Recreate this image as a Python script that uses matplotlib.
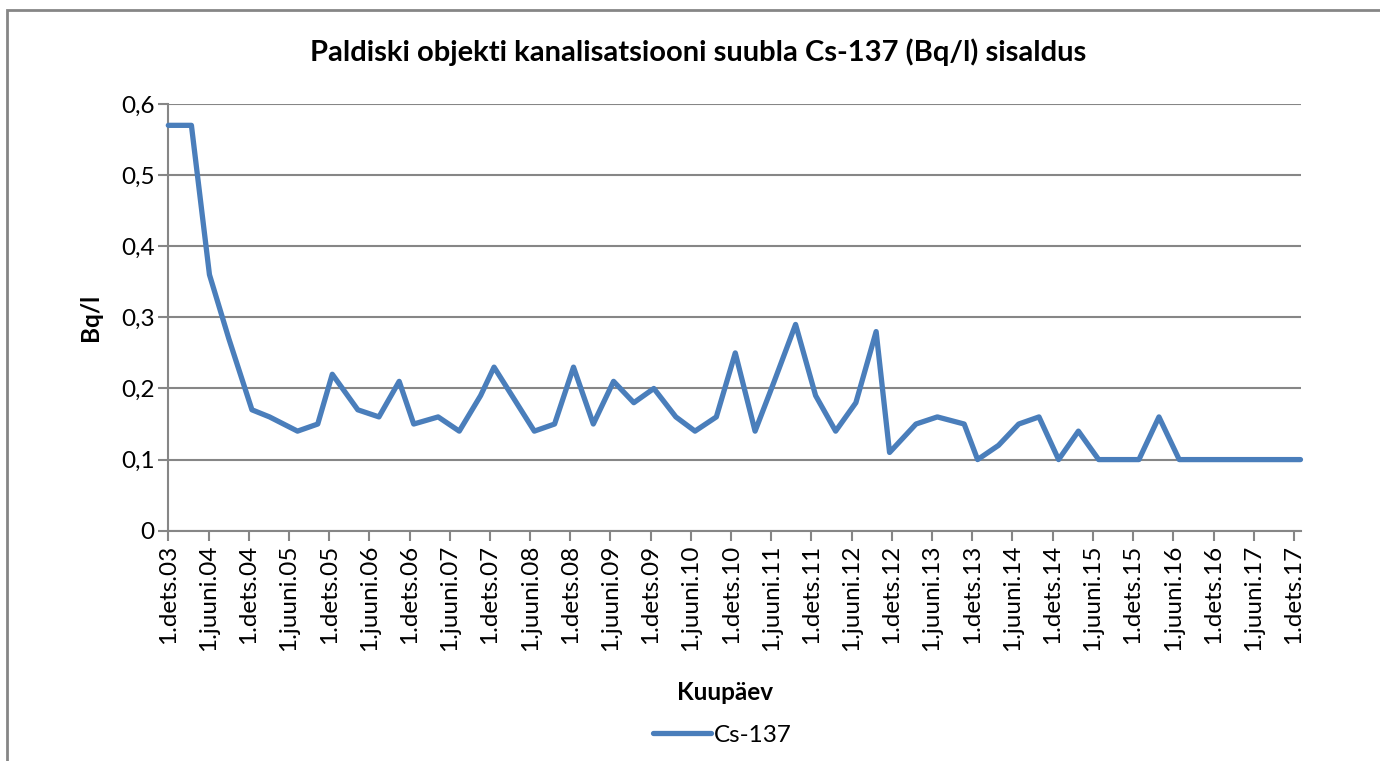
import matplotlib
matplotlib.use("Agg")
import matplotlib.pyplot as plt
from matplotlib.patches import Rectangle
import pandas as pd

# measurement dates and Cs-137 content (Bq/l)
dates = [
    "2003-12-01", "2004-03-15", "2004-06-05", "2004-09-01", "2004-12-15",
    "2005-03-05", "2005-07-10", "2005-10-10", "2005-12-15", "2006-04-10",
    "2006-07-15", "2006-10-15", "2006-12-20", "2007-04-10", "2007-07-15",
    "2007-10-20", "2007-12-20", "2008-06-20", "2008-09-20", "2008-12-15",
    "2009-03-15", "2009-06-15", "2009-09-15", "2009-12-15", "2010-03-25",
    "2010-06-20", "2010-09-25", "2010-12-20", "2011-03-20", "2011-06-15",
    "2011-09-20", "2011-12-20", "2012-03-20", "2012-06-20", "2012-09-20",
    "2012-11-20", "2013-03-20", "2013-06-25", "2013-10-25", "2013-12-25",
    "2014-03-30", "2014-06-30", "2014-09-30", "2014-12-28", "2015-03-28",
    "2015-06-28", "2015-09-28", "2015-12-28", "2016-03-28", "2016-06-28",
    "2016-09-28", "2016-12-28", "2017-03-28", "2017-06-28", "2017-09-28",
    "2017-12-31",
]
cs137 = [
    0.57, 0.57, 0.36, 0.27, 0.17,
    0.16, 0.14, 0.15, 0.22, 0.17,
    0.16, 0.21, 0.15, 0.16, 0.14,
    0.19, 0.23, 0.14, 0.15, 0.23,
    0.15, 0.21, 0.18, 0.20, 0.16,
    0.14, 0.16, 0.25, 0.14, 0.21,
    0.29, 0.19, 0.14, 0.18, 0.28,
    0.11, 0.15, 0.16, 0.15, 0.10,
    0.12, 0.15, 0.16, 0.10, 0.14,
    0.10, 0.10, 0.10, 0.16, 0.10,
    0.10, 0.10, 0.10, 0.10, 0.10,
    0.10,
]
y_ticks = [0, 0.1, 0.2, 0.3, 0.4, 0.5, 0.6]
y_labels = ["0", "0,1", "0,2", "0,3", "0,4", "0,5", "0,6"]

plt.rcParams["font.family"] = ["Lato", "DejaVu Sans"]
grey = "#868686"
blue = "#4A7EBB"
fs = 17.5

x = pd.to_datetime(dates)

fig = plt.figure(figsize=(13.8, 7.61), dpi=100)
ax = fig.add_axes([168.3 / 1380, 1 - 530.7 / 761,
                   (1300.7 - 168.3) / 1380, (530.7 - 104) / 761])

ax.plot(x, cs137, color=blue, linewidth=3.8, solid_joinstyle="round",
        solid_capstyle="round", label="Cs-137", clip_on=False, zorder=3)

# half-year ticks: 1 dets / 1 juuni
ticks = []
labels = []
for yr in range(2003, 2018):
    if yr > 2003:
        ticks.append(pd.Timestamp(yr, 6, 1))
        labels.append("1.juuni.%02d" % (yr % 100))
    ticks.append(pd.Timestamp(yr, 12, 1))
    labels.append("1.dets.%02d" % (yr % 100))
ax.set_xticks(ticks)
ax.set_xticklabels(labels, rotation=90, fontsize=fs)
ax.set_xlim(pd.Timestamp(2003, 12, 1), pd.Timestamp(2018, 1, 1))

ax.set_ylim(0, 0.6)
ax.set_yticks(y_ticks)
ax.set_yticklabels(y_labels, fontsize=fs)

ax.grid(axis="y", color=grey, linewidth=1.5)
ax.set_axisbelow(True)
for s in ["top", "right"]:
    ax.spines[s].set_visible(False)
for s in ["left", "bottom"]:
    ax.spines[s].set_color(grey)
    ax.spines[s].set_linewidth(1.5)
ax.tick_params(axis="both", direction="out", length=7, width=1.5, color=grey, pad=3)

fig.text(698 / 1380, 1 - 52 / 761,
         "Paldiski objekti kanalisatsiooni suubla Cs-137 (Bq/l) sisaldus",
         ha="center", va="center", fontsize=21, fontweight="bold")
fig.text(90 / 1380, 1 - 317 / 761, "Bq/l", rotation=90,
         ha="center", va="center", fontsize=fs, fontweight="bold")
fig.text(725 / 1380, 1 - 692 / 761, "Kuupäev",
         ha="center", va="center", fontsize=fs, fontweight="bold")

ax.legend(loc="center", bbox_to_anchor=(722 / 1380, 1 - 735 / 761),
          bbox_transform=fig.transFigure, frameon=False, fontsize=fs,
          handlelength=2.4, handletextpad=0.1)

# chart border
fig.patches.append(Rectangle((7 / 1380, -0.1), 1.2, 1.1 - 10 / 761,
                             transform=fig.transFigure, fill=False,
                             edgecolor=grey, linewidth=2))

fig.savefig("out.png", dpi=100)
